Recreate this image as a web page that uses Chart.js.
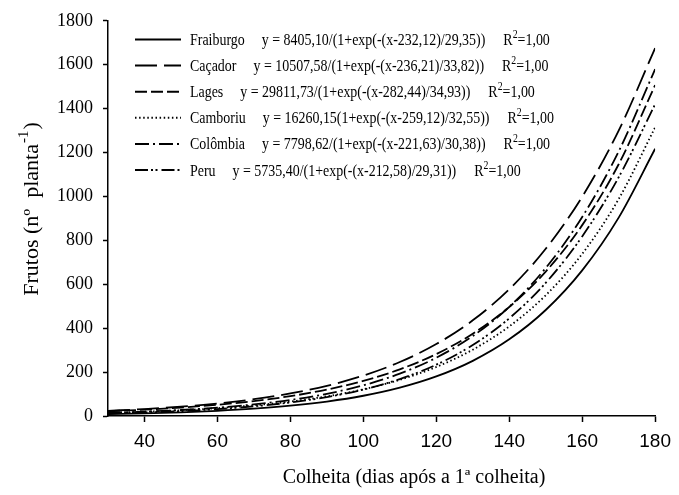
<!DOCTYPE html>
<html>
<head>
<meta charset="utf-8">
<script src="https://cdn.jsdelivr.net/npm/chart.js@4.4.1/dist/chart.umd.min.js"></script>
<style>
html,body{margin:0;padding:0;background:#fff;}
#wrap{width:679px;height:495px;position:relative;}
</style>
</head>
<body>
<div id="wrap"><canvas id="c" width="679" height="495"></canvas></div>
<script>
// ---- data ----
const days = [30,40,50,60,70,80,90,100,110,120,130,140,150,160,170,180];
const fraiburgo = [8.6,12.1,16.9,23.8,33.4,46.9,65.8,92.2,129.1,180.3,251.3,349.1,482.7,663.3,903.6,1217.2];
const cacador   = [23.6,31.7,42.5,57.1,76.6,102.6,137.5,184.0,245.8,327.6,435.7,577.4,761.6,998.8,1299.9,1675.9];
const lages     = [21.7,28.8,38.4,51.1,67.9,90.4,120.2,159.9,212.5,282.2,374.6,496.7,657.7,869.4,1146.5,1507.2];
const camboriu  = [14.3,19.4,26.3,35.8,48.6,66.0,89.6,121.6,164.9,223.3,302.1,408.0,549.9,738.6,988.2,1314.8];
const colombia  = [14.2,19.7,27.4,38.0,52.7,73.0,101.1,139.8,192.9,265.5,364.2,497.1,674.2,906.4,1205.1,1579.8];
const peru      = [11.3,15.9,22.3,31.3,43.9,61.6,86.2,120.6,168.2,233.7,323.4,444.7,606.4,817.9,1087.3,1420.0];

const seriesNames = ['Fraiburgo','Caçador','Lages','Camboriu','Colômbia','Peru'];
const equations = [
  'y = 8405,10/(1+exp(-(x-232,12)/29,35))',
  'y = 10507,58/(1+exp(-(x-236,21)/33,82))',
  'y = 29811,73/(1+exp(-(x-282,44)/34,93))',
  'y = 16260,15(1+exp(-(x-259,12)/32,55))',
  'y = 7798,62/(1+exp(-(x-221,63)/30,38))',
  'y = 5735,40/(1+exp(-(x-212,58)/29,31))'
];
const r2Values = ['1,00','1,00','1,00','1,00','1,00','1,00'];
const xTicks = [40,60,80,100,120,140,160,180];
const yTicks = [0,200,400,600,800,1000,1200,1400,1600,1800];
const xTitle = 'Colheita (dias após a 1ª colheita)';
const yTitleMain = 'Frutos (nº  planta';
const yTitleSup = '-1';
const yTitleEnd = ')';

// ---- styles ----
const seriesValues = [fraiburgo, cacador, lages, camboriu, colombia, peru];
const dashes = [[], [22,7], [12,4], [1.5,2.6], [14,4,2,4], [13,3,2,2.5,2,4]];

const datasets = seriesValues.map((vals, i) => ({
  label: seriesNames[i],
  data: days.map((d, j) => ({x: d, y: vals[j]})),
  borderColor: '#000',
  borderWidth: 1.8,
  borderDash: dashes[i],
  pointRadius: 0,
  fill: false,
  cubicInterpolationMode: 'monotone'
}));

const SERIF = '"Liberation Serif", "Times New Roman", serif';
const SANS = '"Liberation Sans", Arial, sans-serif';

const annot = {
  id: 'annot',
  afterDraw(chart) {
    const ctx = chart.ctx;
    ctx.save();
    ctx.fillStyle = '#000';
    ctx.strokeStyle = '#000';
    // legend
    const sx = 0.82;
    const top = 39.5, step = 26.1;
    chart.data.datasets.forEach((ds, i) => {
      const y = top + i * step;
      ctx.lineWidth = 2;
      ctx.setLineDash(ds.borderDash || []);
      ctx.beginPath(); ctx.moveTo(135, y); ctx.lineTo(181, y); ctx.stroke();
      ctx.setLineDash([]);
      ctx.save();
      ctx.translate(190, y + 5.5);
      ctx.scale(sx, 1);
      ctx.textBaseline = 'alphabetic';
      ctx.textAlign = 'left';
      ctx.font = '17px ' + SERIF;
      let x = 0;
      ctx.fillText(ds.label, x, 0);
      x += ctx.measureText(ds.label).width + 17 / sx;
      ctx.fillText(equations[i], x, 0);
      x += ctx.measureText(equations[i]).width + 18 / sx;
      ctx.fillText('R', x, 0);
      x += ctx.measureText('R').width;
      ctx.font = '12px ' + SERIF;
      ctx.fillText('2', x, -7);
      x += ctx.measureText('2').width;
      ctx.font = '17px ' + SERIF;
      ctx.fillText('=' + r2Values[i], x, 0);
      ctx.restore();
    });
    // x title
    ctx.font = '20px ' + SERIF;
    ctx.textAlign = 'center';
    ctx.textBaseline = 'middle';
    ctx.fillText(xTitle, 414, 478);
    // y title
    ctx.save();
    ctx.translate(30, 209);
    ctx.rotate(-Math.PI / 2);
    ctx.textAlign = 'left';
    ctx.textBaseline = 'alphabetic';
    ctx.font = '22px ' + SERIF;
    const w1 = ctx.measureText(yTitleMain).width;
    const w3 = ctx.measureText(yTitleEnd).width;
    ctx.font = '15px ' + SERIF;
    const w2 = ctx.measureText(yTitleSup).width + 2;
    let x0 = -(w1 + w2 + w3) / 2;
    const base = 8;
    ctx.font = '22px ' + SERIF;
    ctx.fillText(yTitleMain, x0, base);
    ctx.font = '15px ' + SERIF;
    ctx.fillText(yTitleSup, x0 + w1 + 1, base - 10);
    ctx.font = '22px ' + SERIF;
    ctx.fillText(yTitleEnd, x0 + w1 + w2, base);
    ctx.restore();
    ctx.restore();
  }
};

new Chart(document.getElementById('c'), {
  type: 'line',
  data: { datasets },
  options: {
    responsive: false,
    animation: false,
    devicePixelRatio: 1,
    layout: { padding: { top: 20, right: 21, left: 0, bottom: 0 } },
    plugins: { legend: { display: false }, tooltip: { enabled: false } },
    scales: {
      x: {
        type: 'linear',
        min: 30, max: 180,
        afterBuildTicks: (axis) => { axis.ticks = xTicks.map(v => ({ value: v })); },
        afterFit: (scale) => { scale.height = 79; },
        grid: { display: true, drawOnChartArea: false, drawTicks: true, tickLength: 6, tickColor: '#000', tickWidth: 1.5 },
        border: { display: true, color: '#000', width: 1.5 },
        ticks: { color: '#000', font: { family: SANS, size: 19 }, padding: 8, maxRotation: 0, autoSkip: false,
                 callback: (v) => String(v) }
      },
      y: {
        type: 'linear',
        min: 0, max: 1800,
        afterBuildTicks: (axis) => { axis.ticks = yTicks.map(v => ({ value: v })); },
        afterFit: (scale) => { scale.width = 108; },
        grid: { display: true, drawOnChartArea: false, drawTicks: true, tickLength: 5, tickColor: '#000', tickWidth: 1.5 },
        border: { display: true, color: '#000', width: 1.5 },
        ticks: { color: '#000', font: { family: SERIF, size: 18 }, padding: 10, autoSkip: false,
                 callback: (v) => String(v) }
      }
    }
  },
  plugins: [annot]
});
</script>
</body>
</html>
